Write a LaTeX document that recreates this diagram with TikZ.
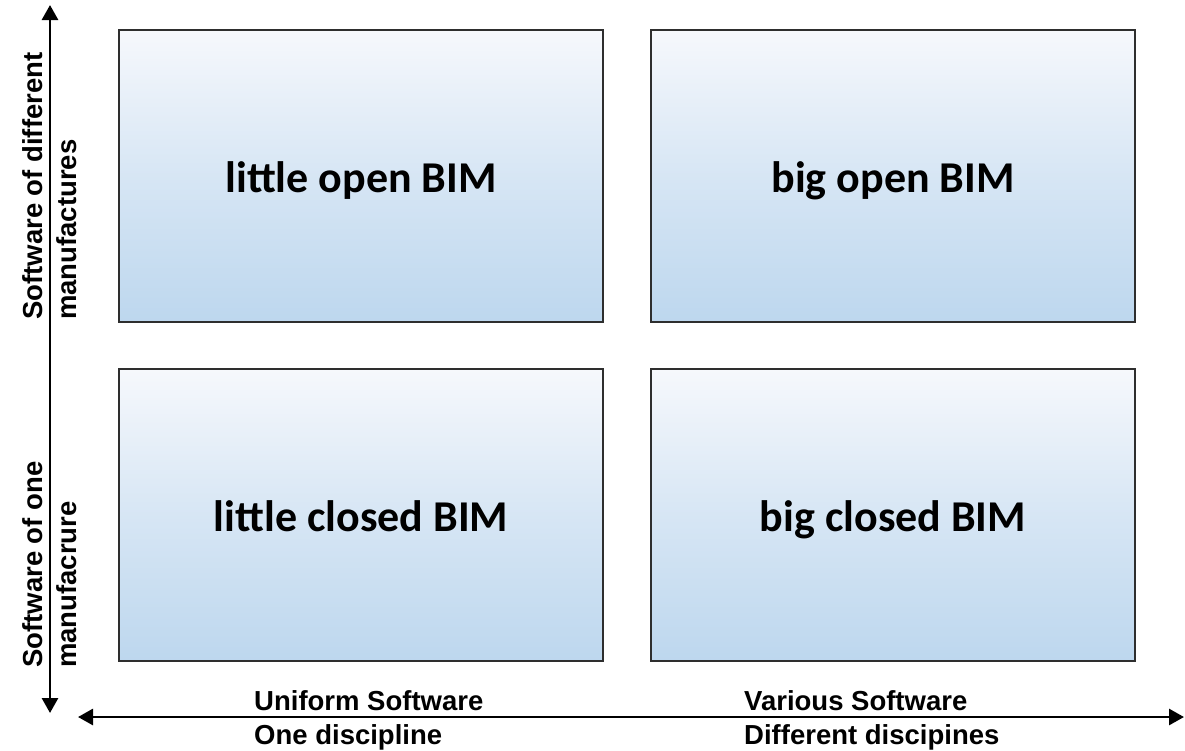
\documentclass[tikz,border=0pt]{standalone}
\usepackage{fontspec}
\setmainfont{Liberation Sans}
\newfontfamily\boxfont{Carlito}
\usetikzlibrary{arrows.meta}

\definecolor{quadtop}{HTML}{F6F8FC}
\definecolor{quadbot}{HTML}{BDD7EE}
\definecolor{quadedge}{HTML}{2E2E2E}

\tikzset{
  quad/.style={draw=quadedge, line width=1.6pt, minimum width=484pt, minimum height=292pt,
    inner sep=0pt, text height=36pt, text depth=4pt,
    top color=quadtop, bottom color=quadbot, middle color=quadbot!55!quadtop,
    font=\boxfont\bfseries\fontsize{44}{52}\selectfont},
  axisboth/.style={line width=2.8pt, {Triangle[length=15pt,width=16pt]}-{Triangle[length=15pt,width=16pt]}},
  axlabel/.style={inner sep=0pt, align=left, font=\bfseries\fontsize{27.5}{34}\selectfont},
}

\begin{document}
\begin{tikzpicture}[x=1pt,y=-1pt]
  \useasboundingbox (0,0) rectangle (1185,750);

  % four quadrants
  \node[quad] (lo) at (361,176) {little open BIM};
  \node[quad] (bo) at (893,176) {big open BIM};
  \node[quad] (lc) at (361,515) {little closed BIM};
  \node[quad] (bc) at (893,515) {big closed BIM};

  % axis end points
  \coordinate (vtop) at (50,5);
  \coordinate (vbot) at (50,713);
  \coordinate (hleft) at (78,717);
  \coordinate (hright) at (1184,717);

  \draw[axisboth] (vbot) -- (vtop);
  \draw[axisboth] (hleft) -- (hright);

  % vertical axis labels
  \node[axlabel, rotate=90, anchor=west] (ytop) at (50,320)
    {Software of different\\manufactures};
  \node[axlabel, rotate=90, anchor=west] (ybot) at (50,668)
    {Software of one\\manufacrure};

  % horizontal axis labels
  \node[axlabel, anchor=base west] (xl1) at (254,710) {Uniform Software};
  \node[axlabel, anchor=base west] (xl2) at (254,744) {One discipline};
  \node[axlabel, anchor=base west] (xr1) at (744,710) {Various Software};
  \node[axlabel, anchor=base west] (xr2) at (744,744) {Different discipines};
\end{tikzpicture}
\end{document}
